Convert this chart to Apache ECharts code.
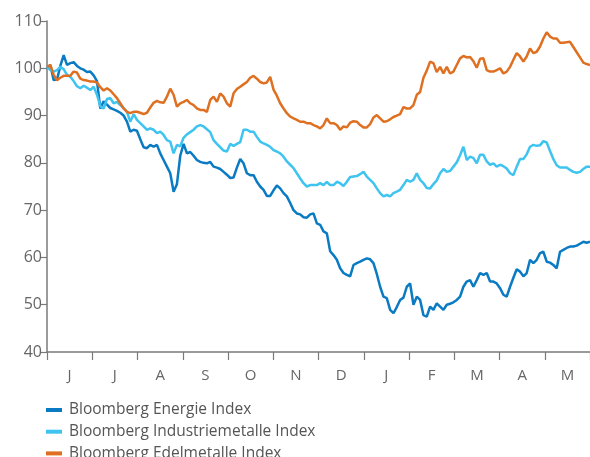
<!DOCTYPE html>
<html><head><meta charset="utf-8">
<script src="https://cdn.jsdelivr.net/npm/echarts@6/dist/echarts.min.js"></script>
<style>html,body{margin:0;padding:0;background:#fff}#c{width:590px;height:457px}</style>
</head><body><div id="c"></div>
<script>
const months = ['J','J','A','S','O','N','D','J','F','M','A','M'];
const yTicks = {min: 40, max: 110, interval: 10};
const seriesNames = ['Bloomberg Energie Index','Bloomberg Industriemetalle Index','Bloomberg Edelmetalle Index'];
const energie = [100,100.7,97.5,97.6,100.5,102.8,100.7,101.1,101.3,100.5,
100,99.7,99.2,99.3,98.5,97.3,91.5,93,92.3,91.6,
91.3,91,90.6,90,88.7,86.6,87,86.8,85,83.3,
83.1,83.8,83.4,83.8,82,80.6,79.2,77.8,73.9,75.5,
81.5,84,82,82.3,81.5,80.6,80.2,80,79.9,80.2,
79.2,79,78.7,78.1,77.5,76.8,76.9,79,80.8,79.9,
77.8,77.4,77.4,76,75,74.3,73,73,74.2,75.2,
74.6,73.6,72.9,71.5,70,69.3,69.1,68.5,68.4,69.1,
69.3,67.2,66.9,65.5,65.1,61.3,60.5,59.5,57.7,56.7,
56.3,56,58.4,58.8,59.1,59.5,59.8,59.6,58.8,56.5,
53.8,51.7,51.4,48.9,48.2,49.5,51,51.5,53.8,54.5,
50,51.7,51,47.8,47.5,49.6,48.9,50.3,49.6,48.9,
50,50.2,50.5,51,51.7,53.8,54.9,55.2,53.8,55.2,
56.7,56.3,56.7,54.9,54.9,54.5,53.5,52.1,51.7,53.8,
55.7,57.5,57,56,56.7,59.5,58.8,59.5,60.9,61.2,
59.1,58.9,58.4,57.7,61.2,61.6,62,62.3,62.3,62.5,
62.9,63.3,63.1,63.3];
const industriemetalle = [100.3,99.6,99.3,99.6,100.3,99.8,98.6,98.2,97.3,96.2,
95.8,96.3,95.9,95.4,96.1,94.4,92,91.5,93.5,93.7,
92.6,92.9,92.2,91.6,90.8,88.7,90.3,89.1,88.4,87.7,
87,87.3,87,86.3,86.6,85.9,84.8,84.5,82,83.8,
83.5,85.3,86,86.5,87,87.7,88,87.7,87.1,86.5,
84.8,84,83.3,82.6,82.4,84,83.6,84,84.4,87,
87,86.6,86.6,85.5,84.5,84.1,83.8,83.4,82.7,82.4,
82,81.3,80.3,79.6,78.9,77.8,76.7,75.7,75,75.3,
75.3,75.3,75.7,75.3,76,75.3,75.3,76,75.7,75.1,
76,77,77.1,77.2,77.6,78.1,77.1,76.4,75.7,74.6,
73.6,72.9,73.2,72.9,73.6,73.9,74.3,75.3,76.4,76,
76.4,77.8,76.4,75.7,74.7,74.6,75.5,76.3,77.8,78.7,
78.1,78.3,79.2,80.1,81.6,83.4,80.6,81.3,81,79.9,
81.7,81.7,80.3,79.6,79.9,79.2,79.6,79.3,78.8,77.8,
77.4,79.2,80.8,80.8,81.8,83.4,83.8,83.6,83.7,84.6,
84.3,82.5,80.8,79.5,79,79,79,78.5,78.1,77.9,
78.1,78.7,79.2,79.2];
const edelmetalle = [100.3,100.7,98.6,97.5,98,98.4,98.4,98.4,99.3,99.1,
97.8,97.5,97.4,97.2,97.2,97,96,95.3,95.8,95.3,
94.5,93.7,92.6,91.5,90.8,90.5,90.8,90.8,90.6,90.3,
90.6,91.7,92.7,93.1,92.8,92.7,94,95.7,94.4,91.9,
92.6,92.9,93.3,92.6,92.2,91.5,91.2,91.2,90.8,93.3,
94,92.9,94.7,94,92.6,91.9,94.7,95.6,96.1,96.6,
97.1,98,98.4,97.8,97.1,96.8,97,98.2,95.5,94.2,
92.6,91.5,90.5,89.8,89.4,89.1,88.7,88.7,88.4,88.4,
88,87.7,87.3,88,89.4,88.4,88.4,88,87,87.7,
87.5,88.5,88.8,88.7,88,87.5,87.5,88.2,89.6,90.1,
89.4,88.7,88.8,89.2,89.7,90,90.3,91.8,91.5,91.5,
92.2,94.4,95,98,99.5,101.4,101.1,99.2,100.3,98.9,
100.3,98.9,99.3,100.7,102.1,102.6,102.3,102.4,101.5,100.1,
102,102.1,99.6,99.3,99.3,99.6,100,98.9,99.3,100.3,
101.8,103.2,102.5,101.4,102.5,104.2,103.2,103.5,104.6,106.3,
107.6,106.7,106.3,106.3,105.4,105.4,105.5,105.6,104.5,103.4,
102.3,101.2,100.9,100.7];
const colors = ['#0a7bc2','#3fc3ef','#df7022'];

const idx = energie.map((_, i) => String(i));
const chart = echarts.init(document.getElementById('c'), null, {renderer: 'canvas'});
const axisGrey = '#7a7a7a';
const textGrey = '#666';
const fontFam = '"Open Sans", "Liberation Sans", sans-serif';
chart.setOption({
  animation: false,
  color: colors,
  grid: {left: 47, right: 0, top: 21, height: 331},
  xAxis: [{
    type: 'category', data: months, boundaryGap: true,
    axisLine: {lineStyle: {color: axisGrey, width: 1.5}},
    axisTick: {show: true, length: 8, alignWithLabel: false, lineStyle: {color: axisGrey, width: 1.2}},
    axisLabel: {color: textGrey, fontSize: 15, fontFamily: fontFam, margin: 16, interval: 0}
  }, {
    type: 'category', data: idx, boundaryGap: false, show: false
  }],
  yAxis: {
    type: 'value', min: yTicks.min, max: yTicks.max, interval: yTicks.interval,
    splitLine: {show: false},
    axisLine: {show: true, lineStyle: {color: axisGrey, width: 1.5}},
    axisTick: {show: true, length: 7, lineStyle: {color: axisGrey, width: 1.2}},
    axisLabel: {color: textGrey, fontSize: 16, fontFamily: fontFam, margin: 5}
  },
  legend: {
    orient: 'vertical', left: 46, top: 401, height: 120,
    itemWidth: 16, itemHeight: 4, itemGap: 3.7,
    icon: 'rect', padding: 0,
    textStyle: {color: '#555', fontSize: 15.5, fontFamily: fontFam, lineHeight: 18, padding: [0,0,0,2]},
    data: seriesNames
  },
  series: [
    {name: seriesNames[0], type: 'line', xAxisIndex: 1, data: energie, showSymbol: false, lineStyle: {width: 2.5}},
    {name: seriesNames[1], type: 'line', xAxisIndex: 1, data: industriemetalle, showSymbol: false, lineStyle: {width: 2.5}},
    {name: seriesNames[2], type: 'line', xAxisIndex: 1, data: edelmetalle, showSymbol: false, lineStyle: {width: 2.5}}
  ]
});
</script></body></html>
